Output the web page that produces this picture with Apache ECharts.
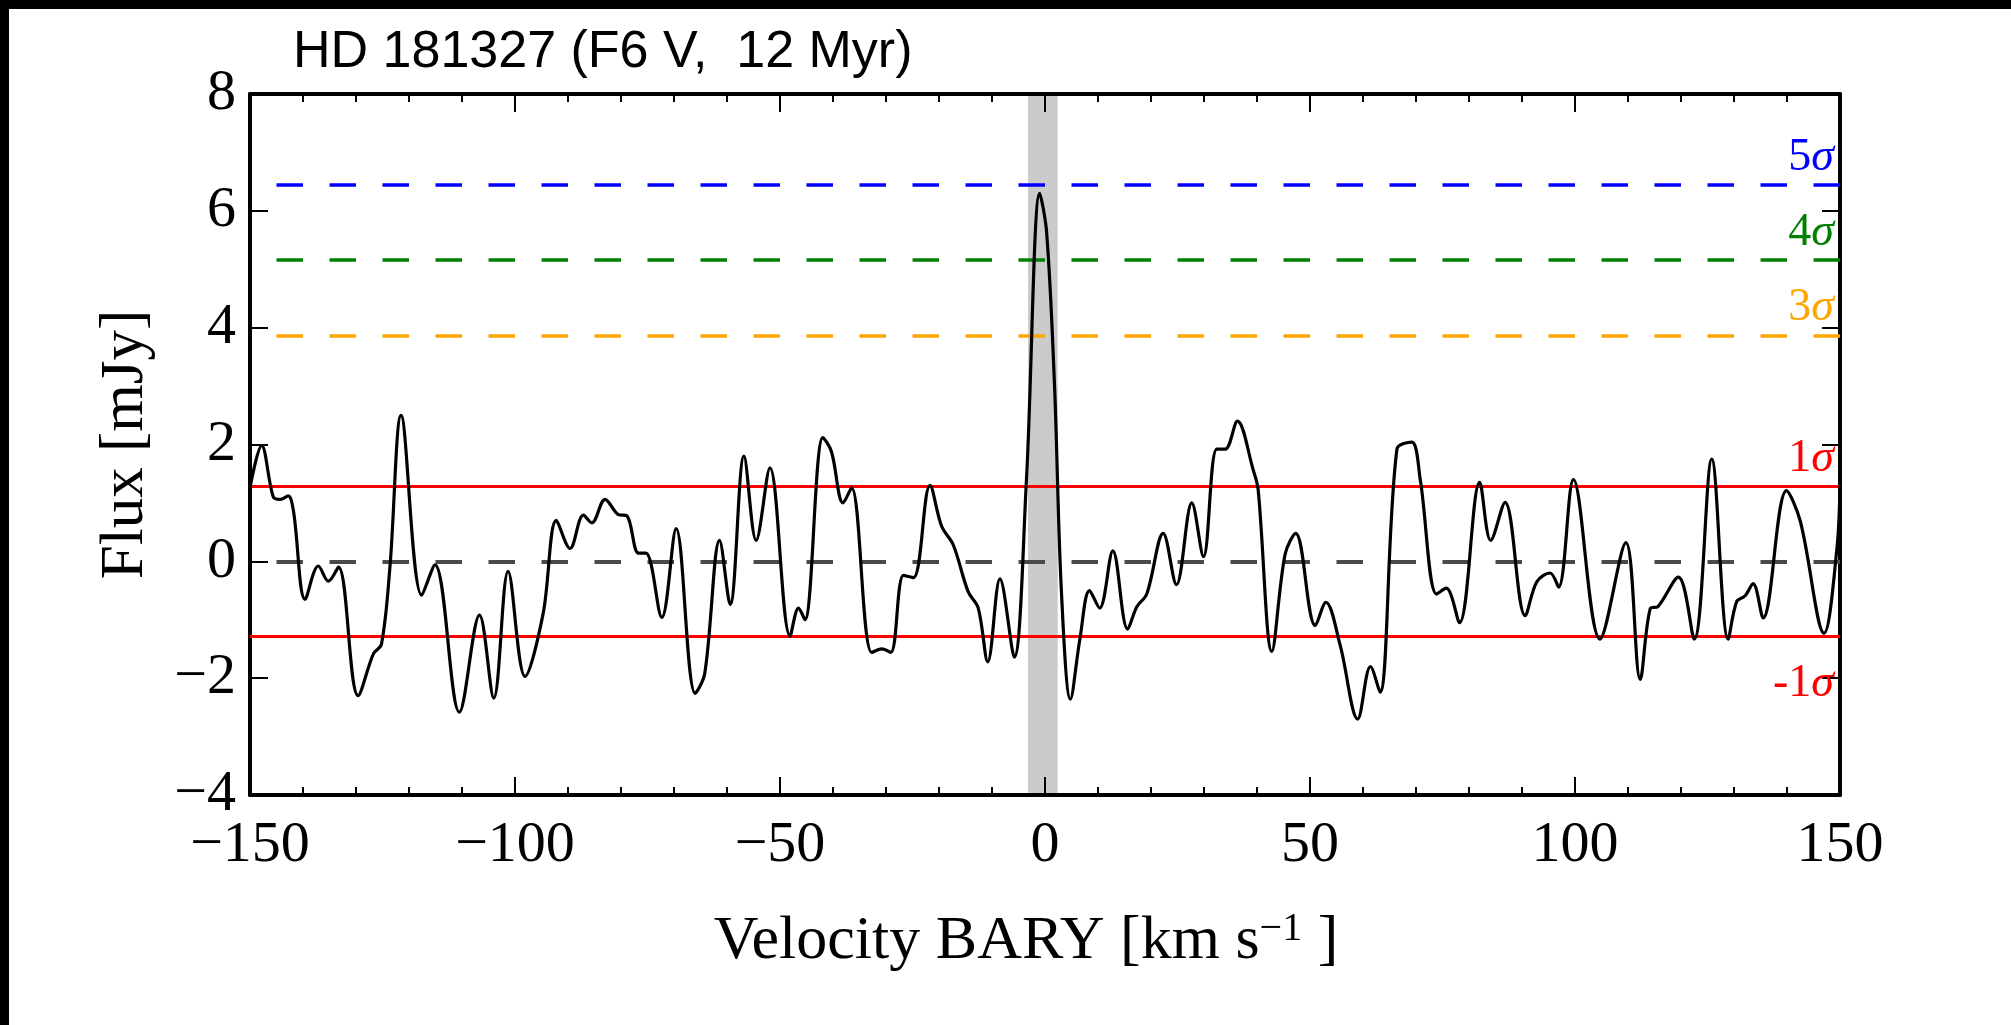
<!DOCTYPE html>
<html lang="en">
<head>
    <meta charset="UTF-8">
    <title>HD 181327 spectrum</title>
    <script src="https://cdn.jsdelivr.net/npm/echarts@6/dist/echarts.min.js"></script>
    <style>
        html, body { margin: 0; padding: 0; background: #fff; }
        #chart { width: 2011px; height: 1025px; }
    </style>
</head>
<body>
    <div id="chart"></div>
    <script>
        // velocity (km/s) and flux (mJy)
        const velocity = [
            -150, -147.8, -145.6, -144.3, -142.8, -141.8, -139.6, -137.1, -135.2, -133.3,
            -129.6, -126.7, -125.2, -123.6, -121.5, -117.6, -115.1, -110.5, -106.7, -104.0,
            -101.3, -98.1, -94.7, -92.2, -89.6, -87.1, -85.5, -83.0, -80.5, -78.9,
            -76.7, -75.3, -72.3, -69.6, -66.0, -64.2, -61.4, -59.4, -56.8, -54.5,
            -51.9, -48.1, -46.5, -45.3, -41.9, -40.3, -38.1, -36.5, -32.7, -30.8,
            -29.1, -26.7, -24.8, -21.7, -19.5, -17.3, -14.5, -12.6, -10.8, -8.5,
            -5.8, -3.5, -1.0, 0.3, 1.8, 3.1, 4.8, 6.6, 8.4, 10.3,
            12.8, 15.6, 17.3, 19.2, 22.3, 24.8, 27.7, 29.9, 32.4, 34.0,
            36.3, 39.3, 40.2, 42.8, 45.3, 47.3, 51.0, 53.0, 55.7, 59.0,
            61.4, 63.2, 66.4, 69.2, 70.8, 73.9, 75.7, 78.2, 82.0, 84.1,
            86.8, 90.6, 92.8, 95.3, 96.9, 99.7, 104.7, 109.6, 112.3, 114.2,
            115.7, 119.5, 122.5, 125.8, 128.9, 130.5, 132.1, 133.6, 135.5, 139.9,
            142.5, 147.0, 149.4, 150
        ];
        const flux = [
            1.26, 1.98, 1.10, 1.06, 1.12, 0.86, -0.65, -0.08, -0.34, -0.10,
            -2.30, -1.58, -1.42, -0.10, 2.50, -0.58, -0.06, -2.58, -0.92, -2.34,
            -0.17, -1.97, -0.90, 0.70, 0.22, 0.79, 0.66, 1.06, 0.80, 0.78,
            0.14, 0.14, -0.96, 0.56, -2.26, -1.92, 0.36, -0.74, 1.80, 0.36,
            1.60, -1.28, -0.80, -1.00, 2.12, 1.88, 1.00, 1.26, -1.56, -1.50,
            -1.56, -0.24, -0.28, 1.30, 0.60, 0.28, -0.52, -0.80, -1.72, -0.30,
            -1.64, 1.40, 6.30, 5.64, 3.00, -0.52, -2.36, -1.32, -0.50, -0.80,
            0.18, -1.16, -0.78, -0.56, 0.48, -0.40, 1.00, 0.08, 1.92, 1.92,
            2.40, 1.56, 1.24, -1.54, 0.12, 0.48, -1.10, -0.70, -1.44, -2.70,
            -1.80, -2.24, 1.92, 2.04, 1.40, -0.56, -0.46, -1.05, 1.35, 0.36,
            1.01, -0.93, -0.35, -0.20, -0.44, 1.40, -1.33, 0.32, -2.02, -0.81,
            -0.77, -0.27, -1.33, 1.75, -1.33, -0.69, -0.59, -0.38, -0.97, 1.21,
            0.69, -1.23, 0.20, 1.30
        ];

        // noise levels (mJy) and their labels
        const sigmaLevels = [6.44, 5.16, 3.87, 1.29, -1.29];
        const sigmaNums = ['5', '4', '3', '1', '-1'];
        const sigmaColors = ['#0000ff', '#008000', '#ffa500', '#ff0000', '#ff0000'];
        const sigmaDashed = [true, true, true, false, false];

        // expected stellar velocity window
        const band = [-3.2, 2.4];

        const serif = "'Liberation Serif', 'DejaVu Serif', serif";
        const minus = v => (v < 0 ? '\u2212' + Math.abs(v) : String(v));

        const chart = echarts.init(document.getElementById('chart'));

        const sigmaLines = sigmaLevels.map((lvl, i) => ({
            yAxis: lvl,
            lineStyle: {
                color: sigmaColors[i],
                width: sigmaDashed[i] ? 3.5 : 3,
                type: sigmaDashed[i] ? [26.5, 26.5] : 'solid',
                dashOffset: 26.5
            },
            label: {
                show: true,
                position: lvl < 0 ? 'insideEndBottom' : 'insideEndTop',
                distance: lvl < 0 ? [6, 24] : [6, 4],
                formatter: '{n|' + sigmaNums[i] + '}{s|σ}',
                rich: {
                    n: { fontFamily: serif, fontSize: 46, color: sigmaColors[i] },
                    s: { fontFamily: serif, fontSize: 46, fontStyle: 'italic', color: sigmaColors[i] }
                }
            }
        }));

        const tickStyle = { color: '#000', width: 2 };
        const axisLineStyle = { color: '#000', width: 4 };

        function xAx(pos, main) {
            return {
                type: 'value', min: -150, max: 150, interval: 50, position: pos,
                axisLine: { show: true, onZero: false, lineStyle: axisLineStyle },
                axisTick: { show: true, inside: true, length: 18, lineStyle: tickStyle },
                minorTick: { show: true, splitNumber: 5, length: 8, lineStyle: tickStyle },
                splitLine: { show: false },
                axisLabel: {
                    show: main, margin: 22, fontFamily: serif, fontSize: 58, color: '#000',
                    formatter: minus, showMinLabel: true, showMaxLabel: true
                },
                name: main ? '{t|Velocity BARY [km s}{u|\u22121}{t| ]}' : '',
                nameLocation: 'middle',
                nameGap: 114,
                nameTextStyle: {
                    padding: [0, 38, 0, 0],
                    rich: {
                        t: { fontFamily: serif, fontSize: 62, color: '#000', lineHeight: 66 },
                        u: { fontFamily: serif, fontSize: 40, color: '#000', verticalAlign: 'top', lineHeight: 66 }
                    }
                }
            };
        }

        function yAx(pos, main) {
            return {
                type: 'value', min: -4, max: 8, interval: 2, position: pos,
                axisLine: { show: true, onZero: false, lineStyle: axisLineStyle },
                axisTick: { show: true, inside: true, length: 18, lineStyle: tickStyle },
                splitLine: { show: false },
                axisLabel: {
                    show: main, margin: 14, fontFamily: serif, fontSize: 58, color: '#000',
                    formatter: minus, showMinLabel: true, showMaxLabel: true
                },
                name: main ? 'Flux [mJy]' : '',
                nameLocation: 'middle',
                nameRotate: 90,
                nameGap: 94,
                nameTextStyle: { fontFamily: serif, fontSize: 61, color: '#000' }
            };
        }

        chart.setOption({
            animation: false,
            backgroundColor: '#fff',
            title: {
                text: 'HD 181327 (F6 V,  12 Myr)',
                left: 288,
                top: 22,
                textStyle: { fontFamily: "'Liberation Sans', Arial, sans-serif", fontSize: 52, fontWeight: 'normal', color: '#000' }
            },
            grid: { left: 250, right: 171, top: 94, bottom: 230 },
            xAxis: [xAx('bottom', true), xAx('top', false)],
            yAxis: [yAx('left', true), yAx('right', false)],
            graphic: [
                { type: 'rect', left: 0, top: 0, shape: { width: 9, height: 1025 }, style: { fill: '#000' } },
                { type: 'rect', left: 0, top: 0, shape: { width: 2011, height: 9 }, style: { fill: '#000' } }
            ],
            series: [
                {
                    // shaded velocity window, kept below everything else
                    type: 'line',
                    data: [],
                    z: 0,
                    markArea: {
                        silent: true,
                        z: 0,
                        itemStyle: { color: '#cbcbcb' },
                        data: [[{ xAxis: band[0] }, { xAxis: band[1] }]]
                    }
                },
                {
                    type: 'line',
                    z: 3,
                    data: [],
                    markLine: {
                        silent: true,
                        z: 3,
                        symbol: 'none',
                        animation: false,
                        data: sigmaLines.concat([{
                            yAxis: 0,
                            lineStyle: { color: '#4a4a4a', width: 4, type: [26.5, 26.5], dashOffset: 26.5 },
                            label: { show: false }
                        }])
                    }
                },
                {
                    type: 'line',
                    data: velocity.map((v, i) => [v, flux[i]]),
                    showSymbol: false,
                    smooth: 0.35,
                    clip: true,
                    lineStyle: { color: '#000', width: 3.2 },
                    z: 10
                }
            ]
        });
    </script>
</body>
</html>
